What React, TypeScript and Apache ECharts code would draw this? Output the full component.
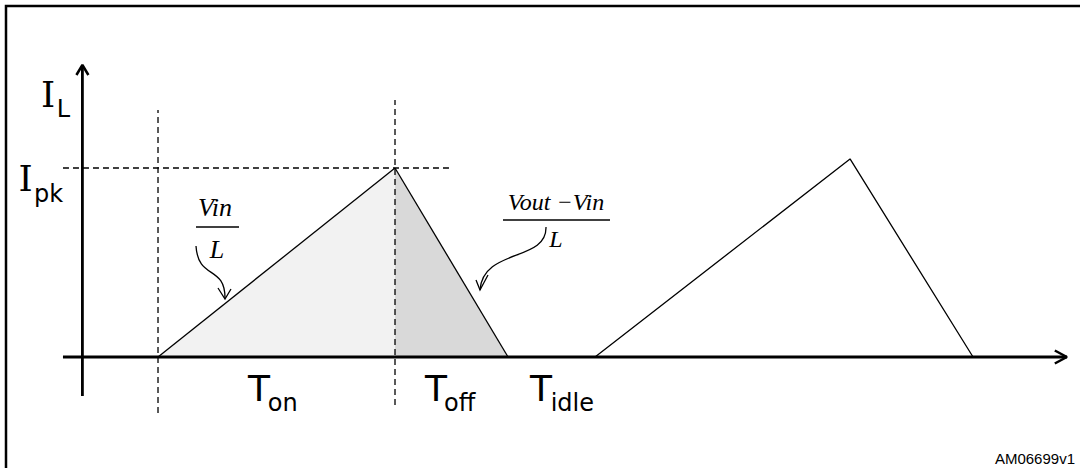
import React, { useEffect, useRef } from "react";
import * as echarts from "echarts";

// Time in units where Ton = 10; current in units where Ipk = 10
const pulse1RiseT = [0, 10];
const pulse1RiseI = [0, 10];
const pulse1FallT = [10, 14.77];
const pulse1FallI = [10, 0];
const pulse2T = [18.44, 29.2, 34.39];
const pulse2I = [0, 10.48, 0];
const ipkLevel = 10;
const ipkLineT = [-4.01, 12.32];
const tonMarkerI = [-2.96, 13.07];
const toffMarkerI = [-2.54, 13.6];
const xAxisT = [-4.01, 38.35];
const yAxisT = -3.19;
const yAxisI = [-2.06, 15.45];

const pairs = (xs: number[], ys: number[]) => xs.map((x, i) => [x, ys[i]]);

export default function App() {
  const ref = useRef<HTMLDivElement>(null);
  useEffect(() => {
    if (!ref.current) return;
    const chart = echarts.init(ref.current, undefined, { renderer: "svg" });
    const black = "#000";
    const base = { type: "line", symbol: "none", silent: true, animation: false } as any;
    const dash = { color: black, width: 1.3, type: [6, 4] };
    const sansFont = "DejaVu Sans";
    const mainText = (text: string, x: number, y: number, font = sansFont, align = "left") => ({
      type: "text",
      x,
      y,
      silent: true,
      style: { text, fill: black, font: `36px '${font}'`, align, verticalAlign: "middle" },
    });
    const subText = (text: string, x: number, y: number) => ({
      type: "text",
      x,
      y,
      silent: true,
      style: { text, fill: black, font: `24px '${sansFont}'`, align: "left", verticalAlign: "middle" },
    });
    const formula = (text: string, x: number, y: number, size: number) => ({
      type: "text",
      x,
      y,
      silent: true,
      style: {
        text,
        fill: black,
        font: `italic ${size}px 'Liberation Serif'`,
        align: "center",
        verticalAlign: "middle",
      },
    });
    const thin = { stroke: black, lineWidth: 1.3, fill: "none" };
    chart.setOption({
      animation: false,
      backgroundColor: "#fff",
      grid: { left: 0, right: 0, top: 0, bottom: 0, containLabel: false },
      xAxis: { type: "value", min: -6.667, max: 38.903, show: false },
      yAxis: { type: "value", min: -5.873, max: 18.889, show: false },
      series: [
        {
          ...base,
          data: pairs(pulse1RiseT, pulse1RiseI),
          lineStyle: { color: black, width: 1.3 },
          areaStyle: { color: "#f2f2f2", opacity: 1 },
        },
        {
          ...base,
          data: pairs(pulse1FallT, pulse1FallI),
          lineStyle: { color: black, width: 1.3 },
          areaStyle: { color: "#d9d9d9", opacity: 1 },
        },
        {
          ...base,
          data: pairs(pulse2T, pulse2I),
          lineStyle: { color: black, width: 1.3 },
        },
        { ...base, data: ipkLineT.map((t) => [t, ipkLevel]), lineStyle: dash },
        { ...base, data: tonMarkerI.map((i) => [pulse1RiseT[0], i]), lineStyle: dash },
        { ...base, data: toffMarkerI.map((i) => [pulse1FallT[0], i]), lineStyle: dash },
        { ...base, data: xAxisT.map((t) => [t, 0]), lineStyle: { color: black, width: 2.8 } },
        { ...base, data: yAxisI.map((i) => [yAxisT, i]), lineStyle: { color: black, width: 2.8 } },
        {
          ...base,
          data: [
            [xAxisT[1] - 0.51, 0.344],
            [xAxisT[1], 0],
            [xAxisT[1] - 0.51, -0.344],
          ],
          lineStyle: { color: black, width: 2.5 },
        },
        {
          ...base,
          data: [
            [yAxisT - 0.253, yAxisI[1] - 0.53],
            [yAxisT, yAxisI[1]],
            [yAxisT + 0.253, yAxisI[1] - 0.53],
          ],
          lineStyle: { color: black, width: 2.5 },
        },
      ],
      graphic: [
        {
          type: "rect",
          silent: true,
          shape: { x: 6, y: 6, width: 1200, height: 600 },
          style: { stroke: black, lineWidth: 2.5, fill: "none" },
        },
        mainText("I", 48, 94, "DejaVu Serif", "center"),
        subText("L", 56.8, 109),
        mainText("I", 25.5, 178, "DejaVu Serif", "center"),
        subText("pk", 34, 194),
        mainText("T", 248, 388),
        subText("on", 267.7, 403),
        mainText("T", 425, 388),
        subText("off", 444, 403),
        mainText("T", 530, 388),
        subText("idle", 550.7, 403),
        formula("Vin", 215, 207, 26),
        { type: "line", silent: true, shape: { x1: 196, y1: 227, x2: 239, y2: 227 }, style: { stroke: black, lineWidth: 1.5 } },
        formula("L", 217, 249, 26),
        formula("Vout \u2212Vin", 556, 202, 24),
        { type: "line", silent: true, shape: { x1: 503, y1: 220, x2: 610, y2: 220 }, style: { stroke: black, lineWidth: 1.5 } },
        formula("L", 556, 239, 24),
        {
          type: "bezierCurve",
          silent: true,
          shape: { x1: 196, y1: 246, cpx1: 198, cpy1: 280, cpx2: 225, cpy2: 265, x2: 225, y2: 298 },
          style: thin,
        },
        {
          type: "polyline",
          silent: true,
          shape: { points: [[218, 288], [225, 299], [231, 289]] },
          style: thin,
        },
        {
          type: "bezierCurve",
          silent: true,
          shape: { x1: 546, y1: 227, cpx1: 547, cpy1: 262, cpx2: 483, cpy2: 248, x2: 480, y2: 290 },
          style: thin,
        },
        {
          type: "polyline",
          silent: true,
          shape: { points: [[476, 280], [480, 290], [488, 275]] },
          style: thin,
        },
        {
          type: "text",
          silent: true,
          x: 1075,
          y: 458,
          style: { text: "AM06699v1", fill: black, font: "15px 'Liberation Sans'", align: "right", verticalAlign: "middle" },
        },
      ],
    });
    return () => chart.dispose();
  }, []);
  return (
    <div
      ref={ref}
      style={{ position: "fixed", left: 0, top: 0, width: 1080, height: 468, background: "#fff" }}
    />
  );
}
